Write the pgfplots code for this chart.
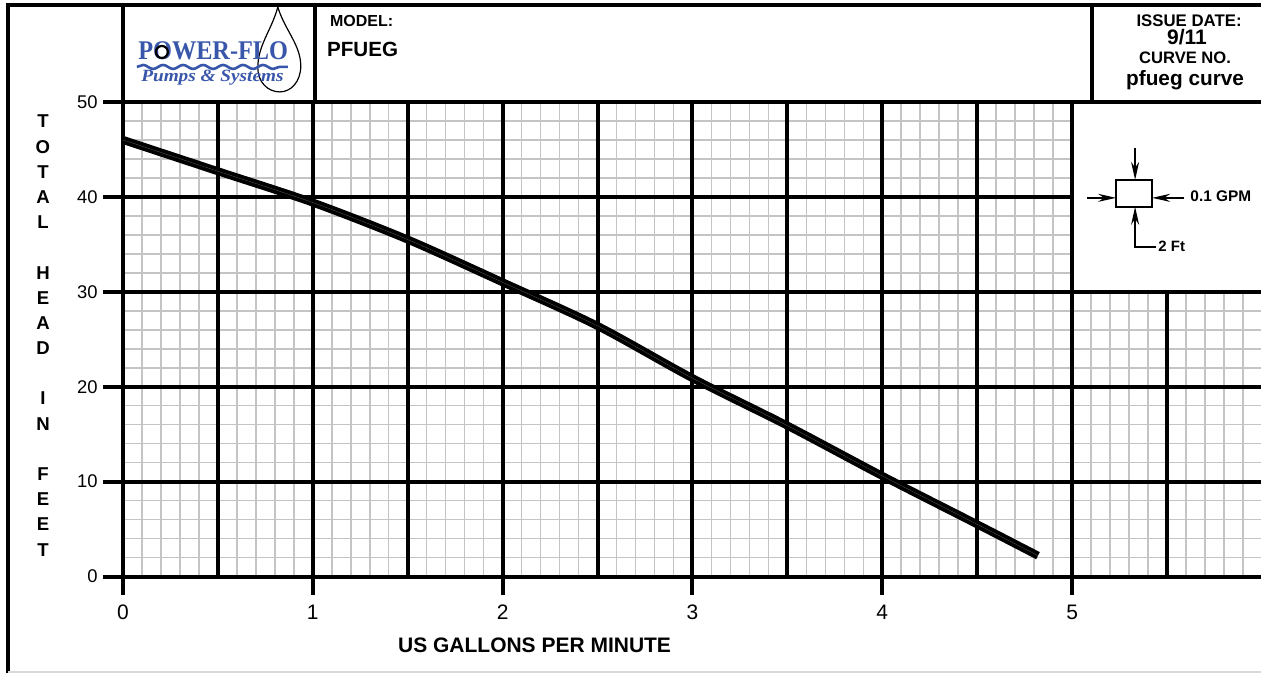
\documentclass[border=0pt]{standalone}
\usepackage{fontspec}
\setmainfont{Liberation Sans}
\newfontfamily\logofont{Liberation Serif}
\usepackage{graphicx}
\usepackage{pgfplots}
\pgfplotsset{compat=1.18}
\usetikzlibrary{arrows.meta,decorations.pathmorphing}
\definecolor{pfblue}{RGB}{56,86,170}
\definecolor{minorgrid}{RGB}{196,196,196}

\pgfplotstableread{
gpm   head
0.00  46.0
0.50  42.7
1.00  39.4
1.50  35.5
2.00  31.0
2.50  26.4
3.00  20.9
3.50  15.9
4.00  10.6
4.50  5.5
4.82  2.2
}\pumpcurve

\begin{document}
\begin{tikzpicture}
\begin{scope}[x=0.5pt,y=-0.5pt]
\useasboundingbox (0,0) rectangle (1262,674);
\fill[white] (0,0) rectangle (1262,674);
% minor grid
\foreach \i in {1,...,59}{
  \ifnum\i<50
    \draw[minorgrid,line width=0.8pt] (123+19*\i,102) -- (123+19*\i,577);
  \else
    \draw[minorgrid,line width=0.8pt] (123+19*\i,293) -- (123+19*\i,577);
  \fi
}
\foreach \j in {1,...,24}{
  \ifnum\j<16
    \draw[minorgrid,line width=0.8pt] (123,577-19*\j) -- (1262,577-19*\j);
  \else
    \draw[minorgrid,line width=0.8pt] (123,577-19*\j) -- (1075,577-19*\j);
  \fi
}
% major grid
\foreach \k in {0,...,10}{
  \draw[line width=2pt] (123+95*\k,102) -- (123+95*\k,577);
}
\draw[line width=2pt] (1168,293) -- (1168,577);
\foreach \k in {0,...,5}{
  \draw[line width=2pt] (123+190*\k,577) -- (123+190*\k,595);
}
\foreach \h in {0,10,20,30}{
  \draw[line width=2pt] (103,577-9.5*\h) -- (1262,577-9.5*\h);
}
\draw[line width=2pt] (103,197) -- (1075,197);
\draw[line width=2pt] (103,102) -- (1262,102);
% header frame
\draw[line width=2pt] (8,674) -- (8,5) -- (1262,5);
\draw[line width=2pt] (123,5) -- (123,102);
\draw[line width=2pt] (315,5) -- (315,102);
\draw[line width=2pt] (1093,5) -- (1093,102);
\draw[black!15,line width=0.6pt] (8,672.5) -- (1262,672.5);
% logo
\draw[black,line width=0.6pt] (278,7) .. controls (285,30) and (301,45) .. (301,66)
  .. controls (301,82) and (291,92) .. (280,92)
  .. controls (268,92) and (258,82) .. (258,68)
  .. controls (258,45) and (272,30) .. (278,7) -- cycle;
\node[anchor=base west,inner sep=0pt,text=pfblue] at (138,60)
  {\scalebox{0.9}[1]{\logofont\bfseries\fontsize{13.5}{15}\selectfont POWER-FLO}};
\draw[black,line width=1.1pt] (162,52) circle (6);
\draw[pfblue,line width=1.3pt,decorate,decoration={snake,segment length=10pt,amplitude=1pt}] (137,67) -- (288,67);
\node[anchor=base west,inner sep=0pt,text=pfblue] at (141,82)
  {\scalebox{1.12}[1]{\logofont\bfseries\itshape\fontsize{8.6}{10}\selectfont Pumps \& Systems}};
% header texts
\node[anchor=base west,inner sep=0pt] at (330,27) {\bfseries\fontsize{8}{9}\selectfont MODEL:};
\node[anchor=base west,inner sep=0pt] at (327,57) {\bfseries\fontsize{10.3}{12}\selectfont PFUEG};
\node[anchor=base,inner sep=0pt] at (1190,27) {\bfseries\fontsize{8.4}{9}\selectfont ISSUE DATE:};
\node[anchor=base,inner sep=0pt] at (1188,45) {\bfseries\fontsize{10.5}{12}\selectfont 9/11};
\node[anchor=base,inner sep=0pt] at (1186,64) {\bfseries\fontsize{8.3}{9}\selectfont CURVE NO.};
\node[anchor=base,inner sep=0pt] at (1186,86) {\bfseries\fontsize{10.4}{12}\selectfont pfueg curve};
% grid-size symbol
\draw[line width=0.7pt] (1117,180) rectangle (1153,207);
\draw[line width=0.7pt,-{Stealth[length=9pt,width=4pt]}] (1136,148) -- (1136,180);
\draw[line width=0.7pt,-{Stealth[length=9pt,width=4pt]}] (1157,247) -- (1136,247) -- (1136,207);
\draw[line width=0.7pt,-{Stealth[length=9pt,width=4pt]}] (1088,198) -- (1117,198);
\draw[line width=0.7pt,-{Stealth[length=9pt,width=4pt]}] (1185,198) -- (1153,198);
\node[anchor=base west,inner sep=0pt] at (1191,202) {\bfseries\fontsize{7.7}{8}\selectfont 0.1 GPM};
\node[anchor=base west,inner sep=0pt] at (1159,252) {\bfseries\fontsize{7.5}{8}\selectfont 2 Ft};
% y label letters
\foreach \L/\n in {T/0,O/1,T/2,A/3,L/4,H/6,E/7,A/8,D/9,I/11,N/12,F/14,E/15,E/16,T/17}{
  \node[inner sep=0pt] at (43,121.7+25.2*\n) {\bfseries\fontsize{9.3}{11}\selectfont\L};
}
\node[anchor=base,inner sep=0pt] at (535,653) {\bfseries\fontsize{10.5}{12}\selectfont US GALLONS PER MINUTE};
\end{scope}

\begin{axis}[
  at={(61.5pt,-288.5pt)}, anchor=south west,
  scale only axis, width=570pt, height=237.5pt,
  xmin=0, xmax=6, ymin=0, ymax=50,
  axis line style={draw=none},
  tick style={draw=none},
  major tick length=0pt,
  xtick={0,1,2,3,4,5},
  ytick={0,10,20,30,40,50},
  /pgf/number format/assume math mode=true,
  xticklabel style={font=\fontsize{10.5}{12}\selectfont, anchor=north, inner sep=0pt, yshift=-14pt},
  yticklabel style={font=\fontsize{9.2}{11}\selectfont, anchor=east, inner sep=0pt, xshift=-12.5pt},
  clip=false,
]
\addplot[black, line width=4pt, smooth] table[x=gpm,y=head] {\pumpcurve};
\addplot[black!65, line width=0.15pt, smooth] table[x=gpm,y=head] {\pumpcurve};
\end{axis}
\end{tikzpicture}
\end{document}
